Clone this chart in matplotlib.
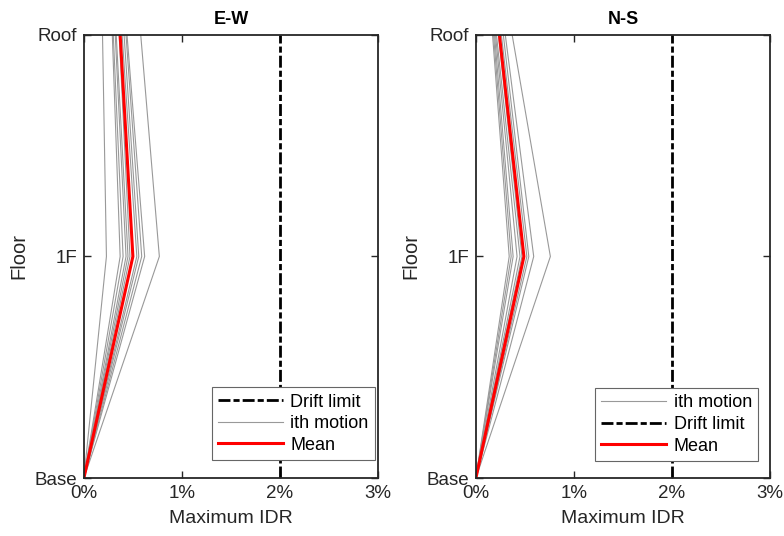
import matplotlib
matplotlib.use('Agg')
import matplotlib.pyplot as plt

plt.rcParams['font.family'] = ['Liberation Sans', 'DejaVu Sans']

# floor levels: Base, 1F, Roof
floors = [0, 1, 2]
floor_labels = ['Base', '1F', 'Roof']

# E-W: maximum IDR (%) of each motion at 1F and roof
ew_1f = [0.23, 0.37, 0.40, 0.43, 0.45, 0.47, 0.54, 0.56, 0.59, 0.62, 0.77]
ew_roof = [0.19, 0.29, 0.30, 0.32, 0.33, 0.36, 0.39, 0.41, 0.43, 0.44, 0.58]
ew_mean = [0, 0.50, 0.37]

# N-S
ns_1f = [0.34, 0.36, 0.38, 0.42, 0.45, 0.47, 0.52, 0.54, 0.59, 0.76]
ns_roof = [0.17, 0.18, 0.19, 0.20, 0.21, 0.23, 0.26, 0.28, 0.30, 0.37]
ns_mean = [0, 0.49, 0.24]

drift_limit = 2.0
xticks = [0, 1, 2, 3]
xtick_labels = ['0%', '1%', '2%', '3%']

dash = (4.3, 1.1, 2.2, 1.1)

fig = plt.figure(figsize=(7.84, 5.36), dpi=100)
ax1 = fig.add_axes([0.107, 0.108, 0.375, 0.827])
ax2 = fig.add_axes([0.607, 0.108, 0.375, 0.827])


def draw(ax, idr_1f, idr_roof, mean, title, order, leg_anchor):
    handles = {}
    for a, b in zip(idr_1f, idr_roof):
        h, = ax.plot([0, a, b], floors, color='0.6', lw=0.8)
    handles['ith motion'] = h
    h, = ax.plot([drift_limit, drift_limit], [floors[0], floors[-1]], color='black',
                 lw=2, dashes=dash)
    handles['Drift limit'] = h
    h, = ax.plot(mean, floors, color='red', lw=2.2)
    handles['Mean'] = h

    ax.set_xlim(0, 3)
    ax.set_ylim(0, 2)
    ax.set_xticks(xticks)
    ax.set_xticklabels(xtick_labels)
    ax.set_yticks(floors)
    ax.set_yticklabels(floor_labels)
    ax.tick_params(direction='in', top=True, right=True, length=5, width=1,
                   labelsize=13.5, color='0.15', labelcolor='0.15', pad=5)
    for s in ax.spines.values():
        s.set_linewidth(1.3)
        s.set_color('0.15')
    ax.set_title(title, fontsize=13, fontweight='bold', pad=8)
    ax.set_xlabel('Maximum IDR', fontsize=14, color='0.15', labelpad=6)
    ax.set_ylabel('Floor', fontsize=14.5, color='0.15', labelpad=4)
    leg = ax.legend([handles[k] for k in order], order, loc='lower right',
                    bbox_to_anchor=leg_anchor, borderaxespad=0,
                    fontsize=13, handlelength=3.6, fancybox=False,
                    framealpha=1, edgecolor='0.4',
                    labelspacing=0.25, handletextpad=0.4, borderpad=0.35)
    leg.get_frame().set_linewidth(0.8)


draw(ax1, ew_1f, ew_roof, ew_mean, 'E-W', ['Drift limit', 'ith motion', 'Mean'],
     (0.99, 0.041))
draw(ax2, ns_1f, ns_roof, ns_mean, 'N-S', ['ith motion', 'Drift limit', 'Mean'],
     (0.96, 0.039))

fig.savefig('out.png', dpi=100)
